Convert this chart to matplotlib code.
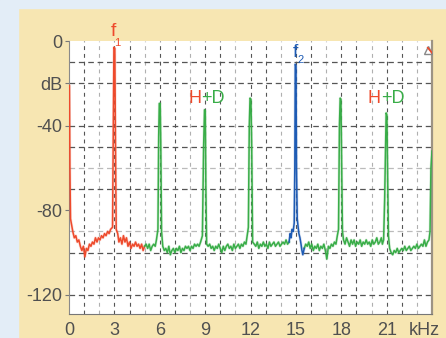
import numpy as np
import matplotlib
matplotlib.use("Agg")
from matplotlib import pyplot as plt
from matplotlib.patches import Rectangle

# spectrum traces: (kHz, dB)
red_pts = [(0.00, -21), (0.03, -21), (0.06, -60), (0.10, -84), (0.15, -86), (0.25, -90),
           (0.35, -93), (0.45, -92), (0.55, -95), (0.65, -94), (0.75, -97), (0.85, -99),
           (0.95, -97), (1.05, -102), (1.15, -98), (1.25, -99), (1.35, -96), (1.45, -97),
           (1.55, -95), (1.65, -96), (1.75, -93), (1.85, -95), (1.95, -93), (2.05, -94),
           (2.15, -92), (2.25, -93), (2.35, -91), (2.45, -92), (2.55, -90), (2.65, -91),
           (2.75, -89), (2.88, -88), (2.93, -40), (2.97, -3), (3.03, -3.5), (3.07, -45),
           (3.12, -89), (3.22, -91), (3.30, -95), (3.40, -93), (3.50, -96), (3.60, -92),
           (3.70, -95), (3.80, -93), (3.90, -97), (4.00, -95), (4.10, -98), (4.20, -96),
           (4.30, -97), (4.40, -95), (4.50, -97), (4.60, -96), (4.70, -98), (4.80, -96),
           (4.90, -99), (5.00, -97)]

green_lo_pts = [(5.00, -97), (5.10, -96), (5.20, -98), (5.30, -96), (5.40, -99), (5.50, -97),
                (5.60, -96), (5.70, -97), (5.78, -94), (5.88, -89), (5.93, -45), (5.97, -29.5),
                (6.03, -29.5), (6.07, -50), (6.12, -90), (6.20, -97), (6.30, -99), (6.40, -98),
                (6.50, -100), (6.60, -97), (6.70, -101), (6.80, -99), (6.90, -98), (7.00, -100),
                (7.10, -98), (7.20, -99), (7.30, -97), (7.40, -100), (7.50, -98), (7.60, -99),
                (7.70, -97), (7.80, -98), (7.90, -97), (8.00, -99), (8.10, -97), (8.20, -98),
                (8.30, -96), (8.40, -97), (8.50, -96), (8.60, -97), (8.70, -95), (8.82, -92),
                (8.90, -50), (8.96, -32.5), (9.01, -33), (9.05, -70), (9.10, -96), (9.20, -97),
                (9.30, -96), (9.40, -98), (9.50, -97), (9.60, -99), (9.70, -97), (9.80, -98),
                (9.90, -96), (10.0, -98), (10.1, -100), (10.2, -97), (10.3, -99), (10.4, -97),
                (10.5, -96), (10.6, -98), (10.7, -97), (10.8, -99), (10.9, -96), (11.0, -98),
                (11.1, -97), (11.2, -96), (11.3, -98), (11.4, -96), (11.5, -97), (11.6, -95),
                (11.7, -96), (11.78, -92), (11.86, -88), (11.92, -40), (11.97, -27), (12.03, -27.5),
                (12.08, -50), (12.14, -95), (12.25, -96), (12.35, -97), (12.45, -95), (12.55, -98),
                (12.65, -96), (12.75, -97), (12.85, -95), (12.95, -97), (13.05, -96), (13.15, -98),
                (13.25, -95), (13.35, -97), (13.45, -96), (13.55, -95), (13.65, -97), (13.75, -96),
                (13.85, -95), (13.95, -97), (14.05, -96), (14.15, -95), (14.25, -96), (14.35, -94),
                (14.45, -96), (14.55, -95)]

blue_pts = [(14.55, -95), (14.62, -91), (14.68, -93), (14.75, -89), (14.82, -90), (14.89, -86),
            (14.93, -60), (14.96, -11), (15.01, -12), (15.04, -60), (15.09, -84), (15.15, -88),
            (15.20, -91), (15.27, -93), (15.34, -96), (15.40, -99), (15.46, -101), (15.55, -98)]

green_hi_pts = [(15.55, -98), (15.65, -96), (15.75, -97), (15.85, -95), (15.95, -98), (16.05, -96),
                (16.15, -99), (16.25, -97), (16.35, -98), (16.45, -96), (16.55, -99), (16.65, -97),
                (16.75, -98), (16.85, -96), (16.95, -99), (17.05, -103), (17.15, -97), (17.25, -98),
                (17.35, -96), (17.45, -97), (17.55, -95), (17.65, -96), (17.74, -92), (17.82, -89),
                (17.88, -40), (17.93, -27), (17.98, -27.5), (18.03, -60), (18.08, -90), (18.15, -94),
                (18.25, -96), (18.35, -93), (18.45, -95), (18.55, -97), (18.65, -94), (18.75, -96),
                (18.85, -94), (18.95, -97), (19.05, -95), (19.15, -96), (19.25, -94), (19.35, -97),
                (19.45, -95), (19.55, -96), (19.65, -94), (19.75, -96), (19.85, -95), (19.95, -97),
                (20.05, -94), (20.15, -96), (20.25, -95), (20.35, -93), (20.45, -96), (20.55, -95),
                (20.65, -93), (20.72, -96), (20.80, -94), (20.87, -75), (20.93, -50), (20.97, -34),
                (21.02, -35), (21.06, -60), (21.12, -92), (21.20, -98), (21.30, -100), (21.40, -101),
                (21.50, -99), (21.60, -100), (21.70, -98), (21.80, -100), (21.90, -99), (22.00, -98),
                (22.10, -99), (22.20, -97), (22.30, -99), (22.40, -98), (22.50, -97), (22.60, -99),
                (22.70, -98), (22.80, -97), (22.90, -98), (23.00, -96), (23.10, -98), (23.20, -97),
                (23.30, -96), (23.40, -97), (23.50, -94), (23.60, -97), (23.70, -95), (23.80, -94),
                (23.87, -90), (23.93, -60), (24.00, -52)]

x_ticks = [0, 3, 6, 9, 12, 15, 18, 21, 23.5]
x_labels = ["0", "3", "6", "9", "12", "15", "18", "21", "kHz"]
y_ticks = [0, -20, -40, -80, -120]
y_labels = ["0", "dB", "-40", "-80", "-120"]
grid_dark_db = [-10, -20, -40, -50, -70, -100, -120]
grid_light_db = [-60, -90]

RED = "#ee4a2c"
GREEN = "#39ad48"
BLUE = "#1e5bb4"
BEIGE = "#f7e6b2"
SKY = "#e3edf7"
TXT = "#505050"
plt.rcParams["font.family"] = ["Liberation Sans Narrow", "Liberation Sans", "DejaVu Sans"]

fig = plt.figure(figsize=(4.46, 3.38), dpi=100, facecolor=BEIGE)
fig.patches.append(Rectangle((0, 0), 18 / 446, 1, transform=fig.transFigure, color=SKY, zorder=0))
fig.patches.append(Rectangle((0, 1 - 8 / 338), 1, 8 / 338, transform=fig.transFigure, color=SKY, zorder=0))

ax = fig.add_axes([69 / 446, 24 / 338, 363 / 446, 273 / 338])
ax.set_facecolor("white")
ax.set_xlim(0, 24)
ax.set_ylim(-129, 0)

# grid
for k in range(1, 24):
    c = "#b0b0b0" if k % 3 == 2 else "#555555"
    ax.axvline(k, color=c, lw=0.8, ls=(0, (3.5, 3.5)), zorder=1)
for d in grid_dark_db:
    ax.axhline(d, color="#555555", lw=0.9, ls=(0, (4.5, 3)), zorder=1)
for d in grid_light_db:
    ax.axhline(d, color="#bbbbbb", lw=0.9, ls=(0, (4.5, 3)), zorder=1)

# traces
for pts, col in [(red_pts, RED), (green_lo_pts, GREEN), (green_hi_pts, GREEN), (blue_pts, BLUE)]:
    f, db = np.array(pts).T
    ax.plot(f, db, color=col, lw=2.0, alpha=0.2, zorder=2, solid_joinstyle="round")
    ax.plot(f, db, color=col, lw=1.1, zorder=3, solid_joinstyle="round")

# annotations
ax.text(2.95, 0.6, "f", color=RED, fontsize=14, ha="center", va="bottom", clip_on=False)
ax.text(3.22, -2.2, "1", color=RED, fontsize=8, ha="center", va="baseline", clip_on=False)
ax.text(14.98, -7.6, "f", color=BLUE, fontsize=14, ha="center", va="baseline")
ax.text(15.3, -10.4, "2", color=BLUE, fontsize=8, ha="center", va="baseline")
for hx in [8.75, 20.62]:
    ax.text(hx, -29.1, "H", color=RED, fontsize=13, ha="right", va="baseline")
    ax.text(hx, -29.1, "+D", color=GREEN, fontsize=13, ha="left", va="baseline")

# little corner icon
ax.plot([23.72], [-4.3], marker="^", ms=6, mfc="none", mec="#888888", mew=1.0, zorder=4)
ax.plot([23.72, 24.0], [-3.2, -5.6], color=RED, lw=1.2, zorder=4)

ax.set_xticks(x_ticks)
ax.set_xticklabels(x_labels)
ax.set_yticks(y_ticks)
ax.set_yticklabels(y_labels)
ax.tick_params(axis="x", length=0, pad=6, labelsize=13, labelcolor=TXT)
ax.tick_params(axis="y", length=3, width=0.8, color="#777777", pad=2, labelsize=13, labelcolor=TXT)

ax.spines["top"].set_visible(False)
ax.spines["left"].set_color("#8a8a8a")
ax.spines["bottom"].set_color("#777777")
ax.spines["right"].set_color("#9c9384")
ax.spines["right"].set_linewidth(1.6)

fig.savefig("out.png", dpi=100, facecolor=BEIGE)
